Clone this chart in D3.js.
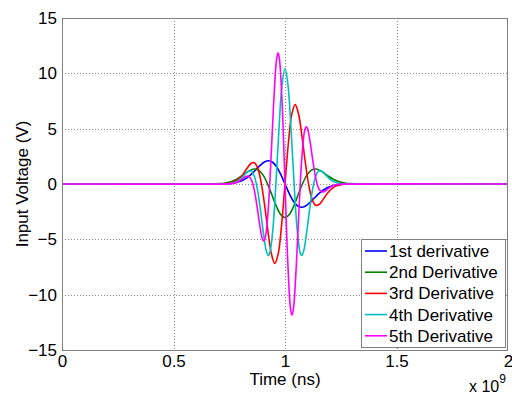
<!DOCTYPE html>
<html><head><meta charset="utf-8">
<script src="https://cdn.jsdelivr.net/npm/d3@7"></script>
<style>body{margin:0;background:#fff}svg{display:block}text{font-family:Arial,"Liberation Sans",sans-serif;fill:#000}</style>
</head><body><svg id="c" width="512" height="394"></svg>
<script>
// ---- data (time in ns, voltage in V) ----
const timeD1 = [0,0.63,0.667,0.704,0.7225,0.741,0.7595,0.778,0.7965,0.815,0.8335,0.852,0.8705,0.889,0.9075,0.926,0.9445,0.963,0.9815,1,1.0185,1.037,1.0555,1.074,1.0925,1.111,1.1295,1.148,1.1665,1.185,1.2035,1.222,1.2405,1.259,1.2775,1.296,1.333,1.37,2];
const voltD1 = [0,0,0.001,0.005,0.012,0.027,0.057,0.116,0.218,0.381,0.621,0.939,1.313,1.690,1.986,2.105,1.965,1.531,0.841,0,-0.841,-1.531,-1.965,-2.105,-1.986,-1.690,-1.313,-0.939,-0.621,-0.381,-0.218,-0.116,-0.057,-0.027,-0.012,-0.005,-0.001,0,0];

const timeD2 = [0,0.61,0.649,0.688,0.7075,0.727,0.7465,0.766,0.7855,0.805,0.8245,0.844,0.8635,0.883,0.9025,0.922,0.9415,0.961,0.9805,1,1.0195,1.039,1.0585,1.078,1.0975,1.117,1.1365,1.156,1.1755,1.195,1.2145,1.234,1.2535,1.273,1.2925,1.312,1.351,1.39,2];
const voltD2 = [0,0,0.002,0.015,0.035,0.075,0.147,0.269,0.453,0.699,0.979,1.230,1.352,1.230,0.780,0,-1.001,-2.006,-2.753,-3.030,-2.753,-2.006,-1.001,0,0.780,1.230,1.352,1.230,0.979,0.699,0.453,0.269,0.147,0.075,0.035,0.015,0.002,0,0];

const timeD3 = [0,0.695,0.7255,0.756,0.77125,0.7865,0.80175,0.817,0.83225,0.8475,0.86275,0.878,0.89325,0.9085,0.92375,0.939,0.95425,0.9695,0.98475,1,1.01525,1.0305,1.04575,1.061,1.07625,1.0915,1.10675,1.122,1.13725,1.1525,1.16775,1.183,1.19825,1.2135,1.22875,1.244,1.2745,1.305,2];
const voltD3 = [0,0.002,0.016,0.091,0.191,0.368,0.650,1.040,1.487,1.857,1.920,1.408,0.123,-1.899,-4.278,-6.308,-7.176,-6.310,-3.701,0,3.701,6.310,7.176,6.308,4.278,1.899,-0.123,-1.408,-1.920,-1.857,-1.487,-1.040,-0.650,-0.368,-0.191,-0.091,-0.016,-0.002,0];

const timeD4 = [0,0.725,0.73875,0.7525,0.76625,0.78,0.79375,0.8075,0.82125,0.835,0.84875,0.8625,0.87625,0.89,0.90375,0.9175,0.9254,0.93125,0.945,0.95875,0.9725,0.98625,1,1.01375,1.0275,1.04125,1.055,1.06875,1.0746,1.0825,1.09625,1.11,1.12375,1.1375,1.15125,1.165,1.17875,1.1925,1.20625,1.22,1.23375,1.2475,1.26125,1.275,2];
const voltD4 = [0,0.006,0.017,0.041,0.092,0.190,0.358,0.606,0.906,1.160,1.175,0.698,-0.483,-2.355,-4.513,-6.143,-6.455,-6.267,-4.221,-0.154,4.799,8.867,10.440,8.867,4.799,-0.154,-4.221,-6.267,-6.455,-6.143,-4.513,-2.355,-0.483,0.698,1.175,1.160,0.906,0.606,0.358,0.190,0.092,0.041,0.017,0.006,0];

const timeD5 = [0,0.7475,0.76013,0.77275,0.78538,0.798,0.81063,0.82325,0.83588,0.8485,0.86113,0.87375,0.88638,0.899,0.9046,0.91163,0.92425,0.93688,0.9495,0.96213,0.96884,0.97475,0.98738,1,1.01263,1.02525,1.03116,1.03788,1.0505,1.06313,1.07575,1.08838,1.0954,1.101,1.11363,1.12625,1.13888,1.1515,1.16413,1.17675,1.18938,1.202,1.21463,1.22725,1.23988,1.2525,2];
const voltD5 = [0,0.015,0.037,0.082,0.167,0.305,0.490,0.668,0.709,0.410,-0.441,-1.899,-3.667,-4.992,-5.166,-4.844,-2.432,2.130,7.457,11.242,11.850,11.358,7.139,0,-7.139,-11.358,-11.850,-11.242,-7.457,-2.130,2.432,4.844,5.166,4.992,3.667,1.899,0.441,-0.410,-0.709,-0.668,-0.490,-0.305,-0.167,-0.082,-0.037,-0.015,0];

const seriesNames = ["1st derivative","2nd Derivative","3rd Derivative","4th Derivative","5th Derivative"];
const seriesColors = ["#0000ff","#008000","#ff0000","#00bfbf","#ff00ff"];
const xTicks = [0,0.5,1,1.5,2];
const yTicks = [-15,-10,-5,0,5,10,15];

const series = [[timeD1,voltD1],[timeD2,voltD2],[timeD3,voltD3],[timeD4,voltD4],[timeD5,voltD5]];

// ---- layout ----
const L = 62, R = 508, T = 18, B = 350;
const svg = d3.select("#c");
const x = d3.scaleLinear().domain([0,2]).range([L,R]);
const y = d3.scaleLinear().domain([-15,15]).range([B,T]);

svg.append("defs").append("clipPath").attr("id","pc")
  .append("rect").attr("x",L).attr("y",T).attr("width",R-L).attr("height",B-T);

// grid
const grid = svg.append("g").attr("stroke","#8c8c8c").attr("stroke-width",1).attr("stroke-dasharray","1,2");
grid.selectAll("line.gx").data(xTicks.filter(d=>d>0&&d<2)).join("line")
  .attr("x1",d=>Math.round(x(d))+0.5).attr("x2",d=>Math.round(x(d))+0.5).attr("y1",T).attr("y2",B);
grid.selectAll("line.gy").data(yTicks.filter(d=>d>-15&&d<15)).join("line")
  .attr("y1",d=>Math.round(y(d))+0.5).attr("y2",d=>Math.round(y(d))+0.5).attr("x1",L).attr("x2",R);

// axes (labels)
const xAxis = d3.axisBottom(x).tickValues(xTicks).tickSize(0).tickPadding(5).tickFormat(d3.format("~g"));
const yAxis = d3.axisLeft(y).tickValues(yTicks).tickSize(0).tickPadding(5).tickFormat(d3.format("~g"));
const gx = svg.append("g").attr("transform",`translate(0,${B})`).call(xAxis);
const gy = svg.append("g").attr("transform",`translate(${L},0)`).call(yAxis);
[gx,gy].forEach(g=>{g.select(".domain").remove();g.selectAll("text").style("font-size","17px").attr("fill","#000");});
gx.selectAll("text").attr("dy","0.7em");

// lines
const line = d3.line().x(d=>x(d[0])).y(d=>y(d[1])).curve(d3.curveCatmullRom.alpha(0.5));
const plot = svg.append("g").attr("clip-path","url(#pc)");
series.forEach((s,i)=>{
  const pts = s[0].map((t,j)=>[t,s[1][j]]);
  plot.append("path").datum(pts).attr("d",line).attr("fill","none")
    .attr("stroke",seriesColors[i]).attr("stroke-width",1.6).attr("stroke-linejoin","round");
});

// frame
svg.append("rect").attr("x",L+0.5).attr("y",T+0.5).attr("width",R-L-1).attr("height",B-T)
  .attr("fill","none").attr("stroke","#808080").attr("stroke-width",1);

// axis titles
svg.append("text").attr("x",(L+R)/2).attr("y",385).attr("text-anchor","middle").style("font-size","17px").text("Time (ns)");
svg.append("text").attr("transform","translate(28,184) rotate(-90)").attr("text-anchor","middle").style("font-size","17px").text("Input Voltage (V)");
const ex = svg.append("text").attr("x",469).attr("y",392).style("font-size","16px");
ex.append("tspan").text("x 10");
ex.append("tspan").attr("dy",-9).style("font-size","12px").text("9");

// legend
const lg = svg.append("g");
lg.append("rect").attr("x",361.5).attr("y",239.5).attr("width",144).attr("height",108)
  .attr("fill","#fff").attr("stroke","#808080");
seriesNames.forEach((n,i)=>{
  const yy = 251 + i*21.2;
  lg.append("line").attr("x1",365).attr("x2",387).attr("y1",yy).attr("y2",yy)
    .attr("stroke",seriesColors[i]).attr("stroke-width",1.6);
  lg.append("text").attr("x",389).attr("y",yy).attr("dy","0.35em").style("font-size","17px").text(n);
});
</script></body></html>
